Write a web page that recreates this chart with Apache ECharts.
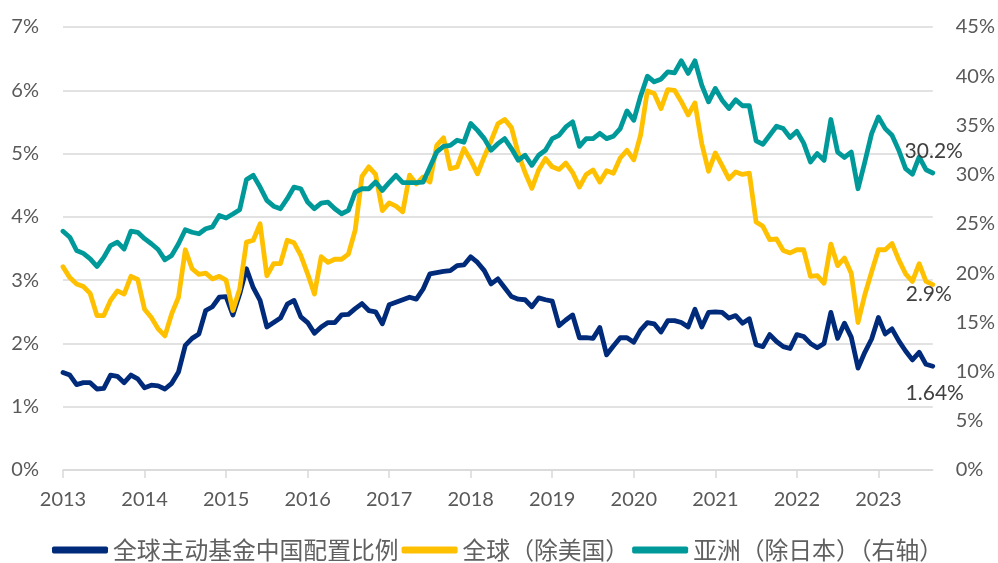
<!DOCTYPE html>
<html>
<head>
<meta charset="utf-8">
<script src="https://cdn.jsdelivr.net/npm/echarts@6/dist/echarts.min.js"></script>
<style>html,body{margin:0;padding:0;background:#fff;}#c{width:998px;height:563px;}</style>
</head>
<body>
<div id="c"></div>
<script>
// Monthly data, 2013-01 .. 2023-09
const startYear = 2013;
const monthCount = 129;
const seriesNames = ['全球主动基金中国配置比例', '全球（除美国）', '亚洲（除日本）（右轴）'];
const endLabels = ['1.64%', '2.9%', '30.2%'];
const leftTicks = [0, 1, 2, 3, 4, 5, 6, 7];
const rightTicks = [0, 5, 10, 15, 20, 25, 30, 35, 40, 45];

const chinaAlloc = [
  1.54,1.50,1.35,1.38,1.38,1.28,1.29,1.50,1.48,1.38,1.50,1.44,
  1.30,1.34,1.33,1.28,1.37,1.55,1.97,2.08,2.15,2.52,2.58,2.73,
  2.74,2.45,2.78,3.18,2.88,2.68,2.26,2.33,2.40,2.62,2.68,2.42,
  2.33,2.16,2.26,2.33,2.33,2.45,2.46,2.55,2.63,2.52,2.50,2.31,
  2.61,2.65,2.69,2.73,2.70,2.86,3.10,3.12,3.14,3.15,3.23,3.24,
  3.37,3.28,3.15,2.94,3.02,2.88,2.74,2.70,2.69,2.58,2.72,2.69,
  2.67,2.28,2.37,2.45,2.09,2.09,2.08,2.25,1.82,1.96,2.09,2.09,
  2.02,2.21,2.33,2.31,2.18,2.36,2.36,2.33,2.26,2.54,2.26,2.49,
  2.50,2.49,2.40,2.44,2.32,2.39,1.98,1.95,2.14,2.03,1.95,1.92,
  2.14,2.11,2.00,1.93,2.00,2.49,2.08,2.32,2.10,1.61,1.86,2.07,
  2.41,2.15,2.23,2.04,1.88,1.74,1.86,1.67,1.64
];
const globalExUS = [
  3.21,3.04,2.94,2.90,2.79,2.44,2.44,2.68,2.83,2.78,3.06,3.01,
  2.54,2.41,2.23,2.12,2.47,2.73,3.48,3.18,3.09,3.11,3.02,3.06,
  3.00,2.52,2.86,3.60,3.63,3.89,3.07,3.26,3.26,3.63,3.59,3.39,
  3.10,2.78,3.37,3.28,3.33,3.33,3.41,3.79,4.64,4.79,4.67,4.10,
  4.22,4.17,4.08,4.66,4.52,4.63,4.55,5.13,5.25,4.76,4.79,5.08,
  4.90,4.68,4.95,5.20,5.47,5.54,5.41,5.00,4.70,4.45,4.74,4.92,
  4.79,4.75,4.85,4.70,4.47,4.67,4.74,4.55,4.73,4.69,4.93,5.05,
  4.90,5.29,5.99,5.95,5.71,6.01,6.00,5.82,5.61,5.80,5.16,4.72,
  5.01,4.81,4.60,4.71,4.67,4.69,3.92,3.85,3.64,3.65,3.47,3.43,
  3.48,3.48,3.06,3.07,2.95,3.57,3.23,3.35,3.11,2.33,2.77,3.13,
  3.48,3.48,3.58,3.32,3.10,2.98,3.26,2.98,2.93
];
const asiaExJapan = [
  24.26,23.65,22.30,22.00,21.45,20.67,21.60,22.80,23.15,22.45,24.26,24.15,
  23.50,22.98,22.40,21.35,21.80,22.98,24.40,24.15,24.00,24.50,24.70,25.86,
  25.60,26.00,26.44,29.50,29.93,28.74,27.39,26.80,26.54,27.56,28.74,28.57,
  27.22,26.54,27.10,27.20,26.54,26.03,26.37,28.23,28.57,28.57,29.25,28.40,
  29.20,29.93,29.20,29.20,29.20,29.25,30.78,32.30,32.88,32.98,33.50,33.30,
  35.20,34.50,33.66,32.48,33.15,33.66,32.65,31.46,31.97,30.95,31.97,32.48,
  33.66,34.00,34.85,35.36,32.88,33.66,33.66,34.20,33.66,33.90,34.68,36.48,
  35.53,37.97,40.00,39.43,39.70,40.45,40.35,41.57,40.28,41.57,39.10,37.40,
  38.76,37.57,36.72,37.60,37.00,37.00,33.43,33.09,34.00,34.92,34.68,33.77,
  34.40,33.20,31.29,32.14,31.46,35.60,32.30,31.75,32.30,28.57,31.29,34.17,
  35.87,34.68,34.00,32.48,30.61,30.04,31.80,30.50,30.17
];

const categories = [];
for (let i = 0; i < monthCount; i++) {
  const y = startYear + Math.floor(i / 12);
  const m = (i % 12) + 1;
  categories.push(y + '-' + (m < 10 ? '0' + m : m));
}

const numFont = 'Lato, "Liberation Sans", sans-serif';
const labelColor = '#595959';

function endLabel(text, off) {
  return {
    show: true, formatter: text, distance: 0, offset: off,
    align: 'center', verticalAlign: 'middle',
    fontFamily: numFont, fontSize: 21, color: '#404040'
  };
}

const chart = echarts.init(document.getElementById('c'), null, {renderer: 'canvas'});
chart.setOption({
  backgroundColor: '#ffffff',
  animation: false,
  grid: {left: 63, right: 65, top: 27, bottom: 93, containLabel: false},
  legend: {
    left: 52, top: 538, padding: 0,
    itemWidth: 56, itemHeight: 7, itemGap: 3,
    icon: 'roundRect',
    textStyle: {fontFamily: '"Noto Sans CJK SC", sans-serif', fontSize: 23.8, color: '#606060'},
    data: seriesNames
  },
  xAxis: {
    type: 'category',
    data: categories,
    boundaryGap: false,
    axisLine: {lineStyle: {color: '#d9d9d9', width: 1.5}},
    axisTick: {show: true, length: 8, interval: (i) => i % 12 === 0, lineStyle: {color: '#d9d9d9', width: 1.5}},
    axisLabel: {
      interval: (i) => i % 12 === 0,
      formatter: (v) => v.slice(0, 4),
      fontFamily: numFont, fontSize: 20, color: labelColor, margin: 20
    },
    splitLine: {show: false}
  },
  yAxis: [
    {
      type: 'value', min: leftTicks[0], max: leftTicks[leftTicks.length - 1], interval: 1,
      axisLine: {show: false}, axisTick: {show: false},
      axisLabel: {formatter: '{value}%', fontFamily: numFont, fontSize: 20, color: labelColor, margin: 24},
      splitLine: {show: true, lineStyle: {color: '#d9d9d9', width: 1.5}}
    },
    {
      type: 'value', min: rightTicks[0], max: rightTicks[rightTicks.length - 1], interval: 5,
      position: 'right',
      axisLine: {show: false}, axisTick: {show: false},
      axisLabel: {formatter: '{value}%', fontFamily: numFont, fontSize: 20, color: labelColor, margin: 23},
      splitLine: {show: false}
    }
  ],
  series: [
    {
      name: seriesNames[0], type: 'line', yAxisIndex: 0, symbol: 'none',
      data: chinaAlloc,
      endLabel: endLabel(endLabels[0], [2, 27]),
      lineStyle: {color: '#002a7a', width: 4.8, cap: 'round', join: 'round'},
      itemStyle: {color: '#002a7a'}
    },
    {
      name: seriesNames[1], type: 'line', yAxisIndex: 0, symbol: 'none',
      data: globalExUS,
      endLabel: endLabel(endLabels[1], [-4, 10]),
      lineStyle: {color: '#ffc000', width: 4.8, cap: 'round', join: 'round'},
      itemStyle: {color: '#ffc000'}
    },
    {
      name: seriesNames[2], type: 'line', yAxisIndex: 1, symbol: 'none',
      data: asiaExJapan,
      endLabel: endLabel(endLabels[2], [1, -22]),
      lineStyle: {color: '#00999a', width: 4.8, cap: 'round', join: 'round'},
      itemStyle: {color: '#00999a'}
    }
  ]
});
</script>
</body>
</html>
